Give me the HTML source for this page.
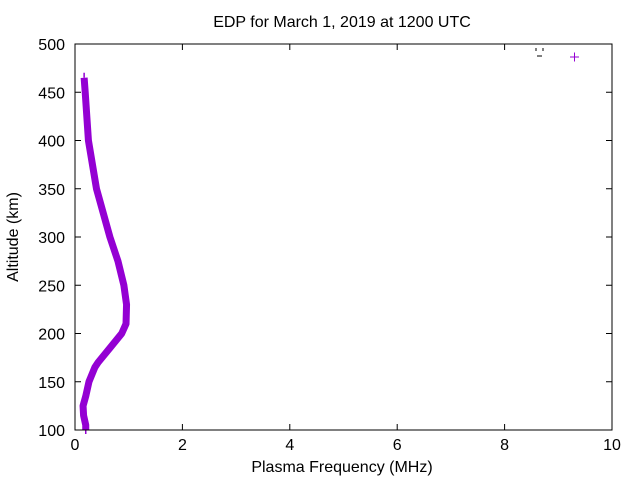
<!DOCTYPE html>
<html><head><meta charset="utf-8"><style>
body{margin:0;background:#fff;}
svg text{font-family:"Liberation Sans",sans-serif;font-size:16px;fill:#000;}
</style></head><body>
<svg id="chart" width="640" height="480" viewBox="0 0 640 480" xmlns="http://www.w3.org/2000/svg">
<rect width="640" height="480" fill="#fff"/>
<text x="342" y="27" text-anchor="middle">EDP for March 1, 2019 at 1200 UTC</text>
<text x="342" y="472" text-anchor="middle">Plasma Frequency (MHz)</text>
<text transform="translate(18,237) rotate(-90)" text-anchor="middle">Altitude (km)</text>
<g id="axes"></g>
<g id="series"></g>
<g>
<line x1="536" y1="48" x2="536" y2="51" stroke="#000"/>
<line x1="543" y1="48" x2="543" y2="51" stroke="#000"/>
<line x1="537" y1="56" x2="542" y2="56" stroke="#000"/>
<path d="M570 57h9M574.5 52.5v9" stroke="#9400d3" stroke-width="1"/>
</g>
<rect x="75" y="44" width="537" height="386" fill="none" stroke="#000" stroke-width="1"/>
</svg>
<script>
const xTicks=[0,2,4,6,8,10];
const yTicks=[100,150,200,250,300,350,400,450,500];
const altitudes=[100,105,115,125,135,150,165,170,185,200,210,230,250,275,300,350,400,450,465];
const freqs=[0.2,0.2,0.16,0.15,0.2,0.26,0.37,0.43,0.65,0.87,0.95,0.96,0.91,0.8,0.65,0.4,0.25,0.19,0.17];
const PL=75,PR=612,PT=44,PB=430;
const xs=v=>PL+(v-0)/(10-0)*(PR-PL);
const ys=v=>PB-(v-100)/(500-100)*(PB-PT);
const NS="http://www.w3.org/2000/svg";
const axesG=document.getElementById('axes');
function mk(tag,attrs,parent){const e=document.createElementNS(NS,tag);for(const k in attrs)e.setAttribute(k,attrs[k]);parent.appendChild(e);return e;}
xTicks.forEach(t=>{
 const x=xs(t);
 const l=mk('path',{d:`M${x} ${PB}v-6M${x} ${PT}v6`,stroke:'#000'},axesG);
 
 
 const tx=mk('text',{x:x,y:PB+20,'text-anchor':'middle'},axesG);tx.textContent=t;
 
 
});
yTicks.forEach(t=>{
 const y=ys(t);
 const l=mk('path',{d:`M${PL} ${y}h6M${PR} ${y}h-6`,stroke:'#000'},axesG);
 
 
 const tx=mk('text',{x:PL-10,y:y+6,'text-anchor':'end'},axesG);tx.textContent=t;
 
 
});
const seriesG=document.getElementById('series');
const pts=altitudes.map((a,i)=>xs(freqs[i])+','+ys(a)).join(' ');
const pl=mk('polyline',{points:pts,fill:'none',stroke:'#9400d3','stroke-width':7,'stroke-linejoin':'round'},seriesG);


const endMarks=mk('path',{d:`M${xs(freqs[freqs.length-1])} ${ys(altitudes[altitudes.length-1])-5}v5M${xs(freqs[0])} ${ys(altitudes[0])}v4`,stroke:'#9400d3','stroke-width':1.5},seriesG);


</script>
</body></html>
